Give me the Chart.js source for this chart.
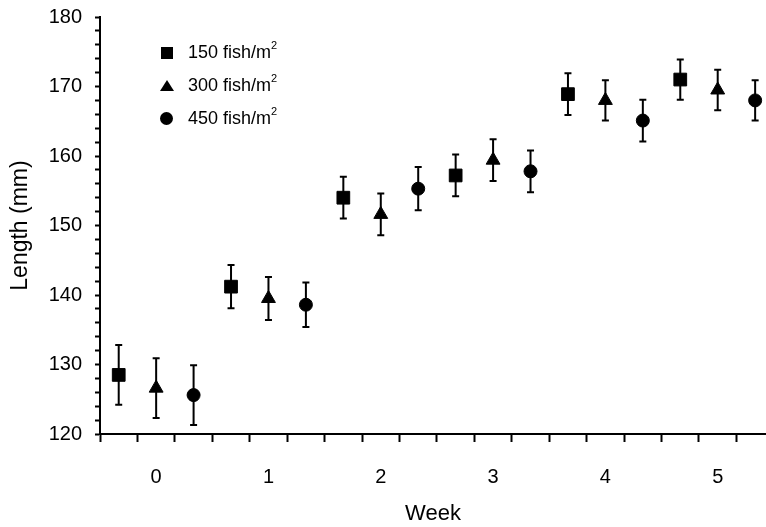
<!DOCTYPE html>
<html>
<head>
<meta charset="utf-8">
<script src="https://cdn.jsdelivr.net/npm/chart.js@4/dist/chart.umd.min.js"></script>
<style>
  html, body { margin: 0; padding: 0; background: #fff; }
  #wrap { position: relative; width: 766px; height: 527px; overflow: hidden; }
  #legend { position: absolute; left: 160px; top: 36px; font-family: "Liberation Sans", Arial, sans-serif; font-size: 18px; color: #000; }
  .row { height: 33px; display: flex; align-items: center; }
  .mk { width: 14px; height: 14px; margin-right: 14px; position: relative; }
  .mk.sq::after { content: ''; position: absolute; left: 1px; top: 1px; width: 12px; height: 12px; background: #000; }
  .mk.tri::after { content: ''; position: absolute; left: 0px; top: 1px; width: 0; height: 0; border-left: 7px solid transparent; border-right: 7px solid transparent; border-bottom: 11px solid #000; }
  .mk.cir::after { content: ''; position: absolute; left: 0px; top: 0px; width: 13px; height: 13px; border-radius: 50%; background: #000; }
  sup { font-size: 11px; position: relative; top: -3px; vertical-align: top; }
</style>
</head>
<body>
<div id="wrap">
  <canvas id="chart" width="766" height="527"></canvas>
  <div id="legend">
    <div class="row"><span class="mk sq"></span><span>150 fish/m<sup>2</sup></span></div>
    <div class="row"><span class="mk tri"></span><span>300 fish/m<sup>2</sup></span></div>
    <div class="row"><span class="mk cir"></span><span>450 fish/m<sup>2</sup></span></div>
  </div>
</div>
<script>
// Data (mean length and error bar half-width, mm)
const weeks = [0, 1, 2, 3, 4, 5];
const len150 = [128.5, 141.2, 154.0, 157.2, 168.9, 171.0];
const err150 = [4.3, 3.1, 3.0, 3.0, 3.0, 2.9];
const len300 = [126.6, 139.5, 151.6, 159.4, 168.0, 169.5];
const err300 = [4.3, 3.1, 3.0, 3.0, 2.9, 2.9];
const len450 = [125.6, 138.6, 155.3, 157.8, 165.1, 168.0];
const err450 = [4.3, 3.2, 3.1, 3.0, 3.0, 2.9];

// Tick marks sit between the week labels (every 1/3 week)
const tickMarks = [];
for (let k = -3; k <= 31; k += 2) tickMarks.push(k / 6);
const xTicks = tickMarks.concat(weeks).sort((a, b) => a - b);

function makeSet(label, lens, errs, shift, style, radius) {
    return {
        label: label,
        data: weeks.map((w, i) => ({ x: w + shift, y: lens[i], err: errs[i] })),
        pointStyle: style,
        pointRadius: radius,
        pointHoverRadius: radius,
        backgroundColor: '#000',
        borderColor: '#000',
        borderWidth: 1,
        showLine: false
    };
}

// Draw the error bars with the chart's own scales
const errorBars = {
    id: 'errorBars',
    beforeDatasetsDraw(chart) {
        const ctx = chart.ctx;
        const xs = chart.scales.x;
        const ys = chart.scales.y;
        ctx.save();
        ctx.strokeStyle = '#000';
        ctx.lineWidth = 2;
        chart.data.datasets.forEach(ds => {
            ds.data.forEach(p => {
                const x = xs.getPixelForValue(p.x);
                const top = ys.getPixelForValue(p.y + p.err);
                const bot = ys.getPixelForValue(p.y - p.err);
                ctx.beginPath();
                ctx.moveTo(x, top);
                ctx.lineTo(x, bot);
                ctx.moveTo(x - 3.5, top);
                ctx.lineTo(x + 3.5, top);
                ctx.moveTo(x - 3.5, bot);
                ctx.lineTo(x + 3.5, bot);
                ctx.stroke();
            });
        });
        ctx.restore();
    }
};

const font = "'Liberation Sans', Arial, sans-serif";

new Chart(document.getElementById('chart'), {
    type: 'scatter',
    data: {
        datasets: [
            makeSet('150 fish/m²', len150, err150, -1 / 3, 'rect', 9),
            makeSet('300 fish/m²', len300, err300, 0, 'triangle', 8),
            makeSet('450 fish/m²', len450, err450, 1 / 3, 'circle', 6.5)
        ]
    },
    options: {
        responsive: false,
        animation: false,
        layout: { autoPadding: false, padding: { top: 17, right: 0, left: 0, bottom: 0 } },
        plugins: {
            legend: { display: false },
            tooltip: { enabled: false }
        },
        scales: {
            x: {
                type: 'linear',
                min: -0.5,
                max: 5.43,
                afterBuildTicks: scale => { scale.ticks = xTicks.map(v => ({ value: v })); },
                afterFit: scale => { scale.height = 93; scale.paddingRight = 0; },
                border: { display: true, color: '#000', width: 2 },
                grid: {
                    drawOnChartArea: false,
                    drawTicks: true,
                    tickLength: 8,
                    tickWidth: 2,
                    color: c => Number.isInteger(c.tick.value) ? 'rgba(0,0,0,0)' : '#000'
                },
                ticks: {
                    autoSkip: false,
                    maxRotation: 0,
                    padding: 23,
                    color: '#000',
                    font: { family: font, size: 20 },
                    callback: v => Number.isInteger(v) ? String(v) : ''
                },
                title: {
                    display: true,
                    text: 'Week',
                    color: '#000',
                    font: { family: font, size: 22 },
                    padding: { top: 0, bottom: 0 }
                }
            },
            y: {
                min: 120,
                max: 180,
                afterFit: scale => { scale.width = 100; scale.paddingTop = 0; scale.paddingBottom = 0; },
                border: { display: true, color: '#000', width: 2 },
                grid: {
                    drawOnChartArea: false,
                    drawTicks: true,
                    tickLength: 5,
                    tickWidth: 2,
                    color: '#000'
                },
                ticks: {
                    stepSize: 2,
                    autoSkip: false,
                    padding: 13,
                    color: '#000',
                    font: { family: font, size: 20 },
                    callback: v => v % 10 === 0 ? String(v) : ''
                },
                title: {
                    display: true,
                    text: 'Length (mm)',
                    color: '#000',
                    font: { family: font, size: 23 },
                    padding: { top: 7, bottom: 0 }
                }
            }
        }
    },
    plugins: [errorBars]
});
</script>
</body>
</html>
